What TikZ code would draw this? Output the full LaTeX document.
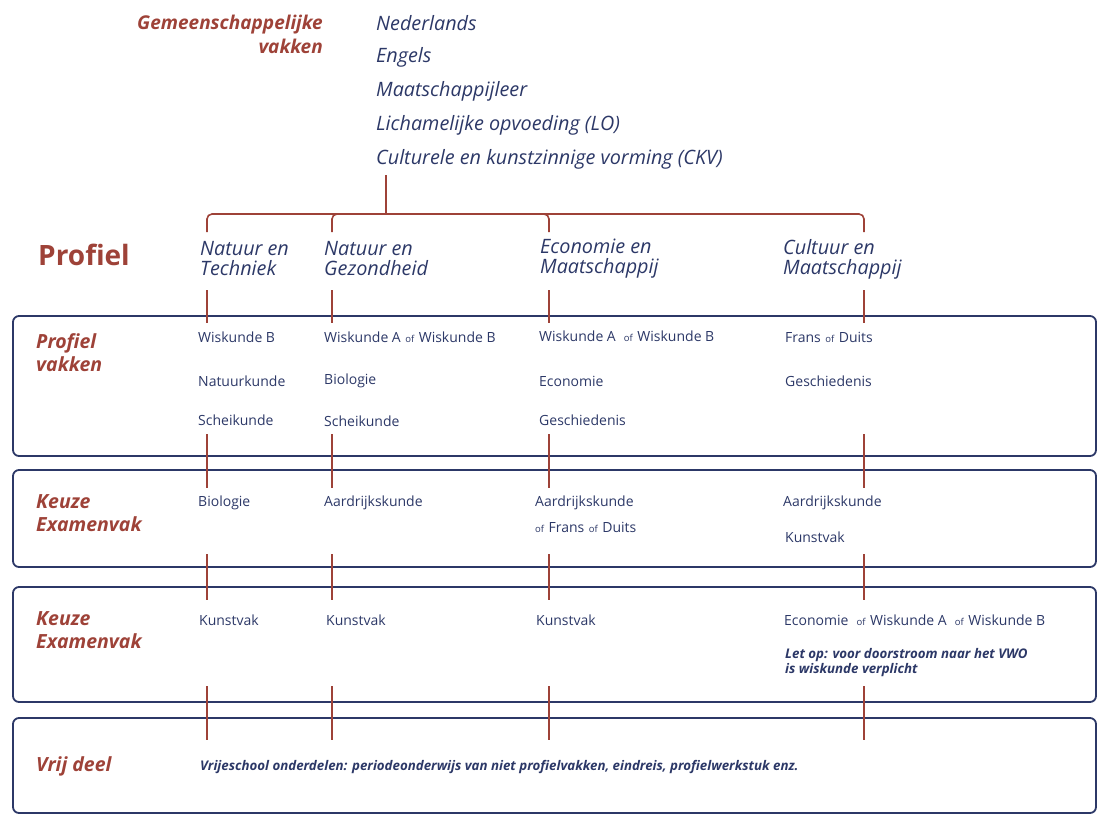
\documentclass[tikz,border=0pt]{standalone}
\usepackage{fontspec}
\setmainfont{Open Sans}
\definecolor{profred}{HTML}{9E4238}
\definecolor{navy}{HTML}{2C3867}
\newcommand{\ofw}{\hspace{4.5pt}{\fontsize{9.5}{10}\selectfont of}\hspace{4.5pt}}

\begin{document}
\begin{tikzpicture}[x=1pt, y=-1pt,
    groep/.style={inner sep=0, text=profred, font=\fontsize{19.5}{23}\selectfont\bfseries\itshape},
    gemvak/.style={anchor=west, inner sep=0, text=navy, font=\fontsize{19.8}{20}\selectfont\itshape},
    profiel/.style={anchor=west, align=left, inner sep=0, text=navy, font=\fontsize{19.8}{20}\selectfont\itshape},
    vak/.style={anchor=west, inner sep=0, text=navy, font=\fontsize{14}{16}\selectfont},
    noot/.style={anchor=west, align=left, inner sep=0, text=navy, font=\fontsize{13.3}{15}\selectfont\bfseries\itshape},
    lijn/.style={draw=profred, line width=1.6pt},
    vakbox/.style={draw=navy, line width=1.8pt, rounded corners=6pt}]
  \useasboundingbox (0,0) rectangle (1114,831);

  % gemeenschappelijk deel
  \node[groep, align=right, anchor=east, font=\fontsize{19}{24}\selectfont\bfseries\itshape] (gem) at (323,34) {Gemeenschappelijke\\vakken};
  \foreach \vaknaam [count=\i] in {Nederlands, Engels, Maatschappijleer,
      Lichamelijke opvoeding (LO), Culturele en kunstzinnige vorming (CKV)}
    \node[gemvak] (gv\i) at (376,{23+34*(\i-1)}) {\vaknaam};

  % boom naar de profielen
  \coordinate (stam) at (386,175);
  \coordinate (hub) at (386,214);
  \coordinate (nt) at (207,232);
  \coordinate (ng) at (332,232);
  \coordinate (em) at (549,232);
  \coordinate (cm) at (864,232);
  \draw[lijn] (stam) -- (hub);
  \draw[lijn, rounded corners=5pt] (nt) |- (hub) -| (cm);
  \draw[lijn, rounded corners=5pt] (ng) |- (hub);
  \draw[lijn, rounded corners=5pt] (em) |- (hub);

  \node[groep, anchor=west, font=\fontsize{28}{30}\selectfont\bfseries] (profiel) at (38,255) {Profiel};
  \node[profiel] (pnt) at (200,259) {Natuur en\\Techniek};
  \node[profiel] (png) at (324,259) {Natuur en\\Gezondheid};
  \node[profiel] (pem) at (540,259) {Economie en\\Maatschappij};
  \node[profiel] (pcm) at (783,259) {Cultuur en\\Maatschappij};

  % kaders
  \draw[vakbox] (13,316) rectangle (1096,456);
  \draw[vakbox] (13,470) rectangle (1096,567);
  \draw[vakbox] (13,587) rectangle (1096,702);
  \draw[vakbox] (13,718) rectangle (1096,813);

  % verbindingen tussen de kaders
  \foreach \x in {207,332,549,864} {
    \coordinate (a\x) at (\x,290);
    \coordinate (b\x) at (\x,323);
    \coordinate (c\x) at (\x,434);
    \coordinate (d\x) at (\x,488);
    \coordinate (e\x) at (\x,554);
    \coordinate (f\x) at (\x,600);
    \coordinate (g\x) at (\x,686);
    \coordinate (h\x) at (\x,740);
    \draw[lijn, line width=1.4pt] (a\x) -- (b\x);
    \draw[lijn, line width=1.4pt] (c\x) -- (d\x);
    \draw[lijn, line width=1.4pt] (e\x) -- (f\x);
    \draw[lijn, line width=1.4pt] (g\x) -- (h\x);
  }

  % profielvakken
  \node[groep, anchor=west, align=left] (pv) at (36,353) {Profiel\\vakken};
  \node[vak] (pv11) at (198,337) {Wiskunde B};
  \node[vak] (pv12) at (198,381) {Natuurkunde};
  \node[vak] (pv13) at (198,420) {Scheikunde};
  \node[vak] (pv21) at (324,337) {Wiskunde A\ofw Wiskunde B};
  \node[vak] (pv22) at (324,381) {Biologie};
  \node[vak] (pv23) at (324,421) {Scheikunde};
  \node[vak] (pv31) at (539,336) {Wiskunde A \ofw Wiskunde B};
  \node[vak] (pv32) at (539,381) {Economie};
  \node[vak] (pv33) at (539,420) {Geschiedenis};
  \node[vak] (pv41) at (785,337) {Frans\ofw Duits};
  \node[vak] (pv42) at (785,381) {Geschiedenis};

  % keuze examenvak 1
  \node[groep, anchor=west, align=left] (ke1) at (36,513) {Keuze\\Examenvak};
  \node[vak] (ka1) at (198,503) {Biologie};
  \node[vak] (ka2) at (324,503) {Aardrijkskunde};
  \node[vak] (ka3) at (535,503) {Aardrijkskunde};
  \node[vak] (ka3b) at (535,527) {{\fontsize{9.5}{10}\selectfont of}\hspace{4.5pt}Frans\ofw Duits};
  \node[vak] (ka4) at (783,503) {Aardrijkskunde};
  \node[vak] (ka4b) at (785,537) {Kunstvak};

  % keuze examenvak 2
  \node[groep, anchor=west, align=left] (ke2) at (36,630) {Keuze\\Examenvak};
  \node[vak] (kb1) at (199,620) {Kunstvak};
  \node[vak] (kb2) at (326,620) {Kunstvak};
  \node[vak] (kb3) at (536,620) {Kunstvak};
  \node[vak] (kb4) at (784,620) {Economie \ofw Wiskunde A \ofw Wiskunde B};
  \node[noot] (letop) at (785,662.5) {Let op: voor doorstroom naar het VWO\\is wiskunde verplicht};

  % vrij deel
  \node[groep, anchor=west] (vrij) at (36,766) {Vrij deel};
  \node[noot] (vrijtekst) at (200,767)
    {Vrijeschool onderdelen: periodeonderwijs van niet profielvakken, eindreis, profielwerkstuk enz.};
\end{tikzpicture}
\end{document}
